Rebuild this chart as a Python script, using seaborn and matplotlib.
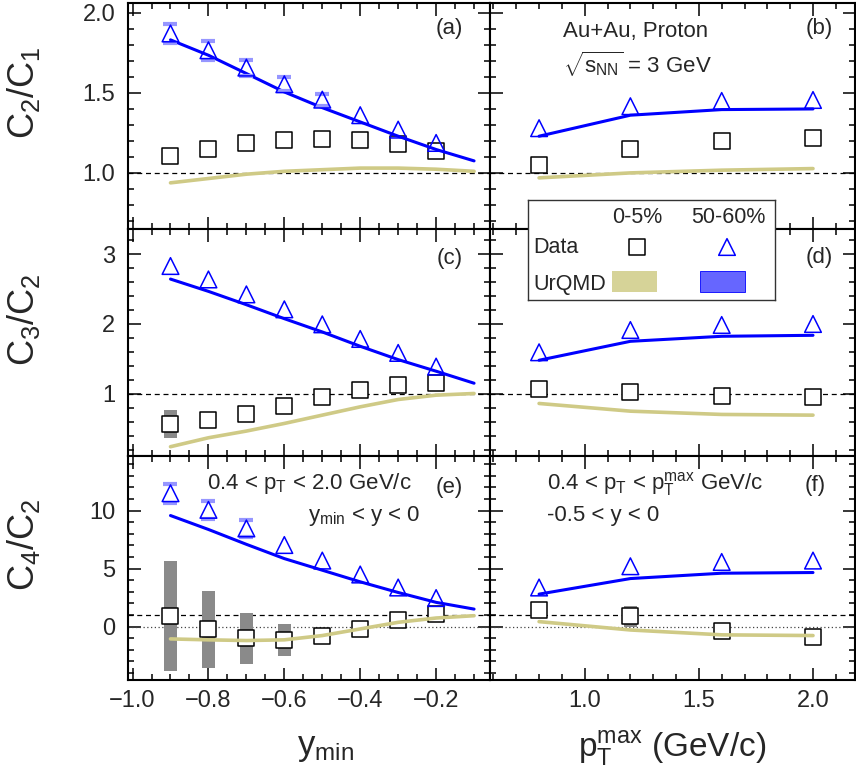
import matplotlib
matplotlib.use("Agg")
import matplotlib.pyplot as plt
import seaborn as sns
from matplotlib.ticker import MultipleLocator
from matplotlib.patches import Rectangle

# ---------------------------------------------------------------- data
# left column: scan in rapidity window y_min < y < 0
y_min_data = [-0.9, -0.8, -0.7, -0.6, -0.5, -0.4, -0.3, -0.2]
y_min_model = [-0.9, -0.8, -0.7, -0.6, -0.5, -0.4, -0.3, -0.2, -0.1]
# right column: scan in upper pT cut
pt_max = [0.8, 1.2, 1.6, 2.0]

# C2/C1 vs y_min
c21_y_cent = [1.108, 1.150, 1.185, 1.208, 1.214, 1.206, 1.180, 1.139]
c21_y_peri = [1.870, 1.765, 1.657, 1.553, 1.457, 1.360, 1.270, 1.187]
c21_y_peri_sys = [0.062, 0.058, 0.050, 0.045, 0.038, 0.0, 0.0, 0.0]
c21_y_urqmd_cent = [0.938, 0.965, 0.992, 1.010, 1.020, 1.030, 1.030, 1.023, 1.010]
c21_y_urqmd_peri = [1.830, 1.734, 1.620, 1.505, 1.407, 1.318, 1.229, 1.146, 1.075]

# C2/C1 vs pT max
c21_pt_cent = [1.050, 1.146, 1.200, 1.216]
c21_pt_peri = [1.279, 1.416, 1.449, 1.455]
c21_pt_urqmd_cent = [0.969, 1.000, 1.017, 1.027]
c21_pt_urqmd_peri = [1.229, 1.360, 1.395, 1.399]

# C3/C2 vs y_min
c32_y_cent = [0.571, 0.624, 0.714, 0.833, 0.952, 1.062, 1.129, 1.162]
c32_y_cent_sys = [0.200, 0.060, 0.030, 0.020, 0.010, 0.010, 0.010, 0.010]
c32_y_peri = [2.830, 2.638, 2.424, 2.210, 1.995, 1.786, 1.586, 1.390]
c32_y_urqmd_cent = [0.243, 0.371, 0.467, 0.576, 0.695, 0.814, 0.919, 0.981, 1.005]
c32_y_urqmd_peri = [2.643, 2.467, 2.276, 2.076, 1.886, 1.681, 1.490, 1.324, 1.152]

# C3/C2 vs pT max
c32_pt_cent = [1.071, 1.033, 0.971, 0.952]
c32_pt_peri = [1.595, 1.914, 1.986, 2.000]
c32_pt_urqmd_cent = [0.862, 0.752, 0.705, 0.695]
c32_pt_urqmd_peri = [1.481, 1.752, 1.824, 1.838]

# C4/C2 vs y_min
c42_y_cent = [0.94, -0.23, -1.00, -1.17, -0.83, -0.20, 0.54, 1.09]
c42_y_cent_sys = [4.74, 3.33, 2.20, 1.37, 0.30, 0.20, 0.20, 0.20]
c42_y_peri = [11.49, 10.06, 8.46, 7.03, 5.69, 4.49, 3.37, 2.46]
c42_y_peri_sys = [0.80, 0.75, 0.70, 0.0, 0.0, 0.0, 0.0, 0.0]
c42_y_urqmd_cent = [-1.06, -1.14, -1.20, -1.14, -0.77, -0.20, 0.37, 0.74, 0.94]
c42_y_urqmd_peri = [9.57, 8.37, 7.09, 5.86, 4.86, 3.86, 2.94, 2.09, 1.51]

# C4/C2 vs pT max
c42_pt_cent = [1.43, 0.89, -0.37, -0.86]
c42_pt_cent_sys = [0.20, 0.90, 0.50, 0.20]
c42_pt_peri = [3.37, 5.20, 5.57, 5.69]
c42_pt_urqmd_cent = [0.43, -0.29, -0.71, -0.77]
c42_pt_urqmd_peri = [2.80, 4.14, 4.60, 4.66]

# ---------------------------------------------------------------- style
sns.set_theme(style="ticks")
plt.rcParams["font.family"] = ["Liberation Sans", "DejaVu Sans"]
plt.rcParams["mathtext.fontset"] = "custom"
plt.rcParams["mathtext.rm"] = "Liberation Sans"
plt.rcParams["mathtext.it"] = "Liberation Sans"
plt.rcParams["mathtext.sf"] = "Liberation Sans"
plt.rcParams["axes.facecolor"] = "white"

BLUE = "#0000ff"
KHAKI = "#cfca86"
SYS_BLUE = "#9696ff"
GRAY = "#8a8a8a"

W, H = 856, 783
fig = plt.figure(figsize=(W / 100, H / 100), dpi=100)


def axpos(x0, x1, y0, y1):
    return [x0 / W, 1 - y1 / H, (x1 - x0) / W, (y1 - y0) / H]


cols = [(128, 490), (490, 855)]
rows = [(3, 229), (229, 456), (456, 680)]
xlims = [(-1.012, -0.058), (0.585, 2.184)]
xlocs = [(0.2, 0.05), (0.5, 0.1)]
ylims = [(0.65, 2.06), (0.11, 3.36), (-4.6, 14.7)]
ylocs = [(0.5, 0.1), (1, 0.2), (5, 1)]

axes = [[None, None] for _ in rows]
for r, (y0, y1) in enumerate(rows):
    for c, (x0, x1) in enumerate(cols):
        ax = fig.add_axes(axpos(x0, x1, y0, y1))
        ax.set_xlim(*xlims[c])
        ax.set_ylim(*ylims[r])
        ax.xaxis.set_major_locator(MultipleLocator(xlocs[c][0]))
        ax.xaxis.set_minor_locator(MultipleLocator(xlocs[c][1]))
        ax.yaxis.set_major_locator(MultipleLocator(ylocs[r][0]))
        ax.yaxis.set_minor_locator(MultipleLocator(ylocs[r][1]))
        ax.tick_params(which="both", direction="in", top=True, right=True,
                       width=1.1, color="black", labelsize=17)
        ax.tick_params(which="major", length=9)
        ax.tick_params(which="minor", length=4.5)
        ax.tick_params(axis="y", pad=9)
        ax.tick_params(axis="x", pad=7)
        ax.tick_params(labelbottom=(r == 2), labelleft=(c == 0))
        for s in ax.spines.values():
            s.set_linewidth(1.5)
            s.set_color("black")
        axes[r][c] = ax


def draw_panel(ax, x, xm, cent, peri, um_cent, um_peri,
               cent_sys=None, peri_sys=None, bar_w=0.034, zero_line=False):
    ax.axhline(1, color="black", lw=0.9, ls=(0, (4, 3)), zorder=1)
    if zero_line:
        ax.axhline(0, color="#444444", lw=0.9, ls=(0, (1, 2)), zorder=1)
    if cent_sys is not None:
        lo = [v - e for v, e in zip(cent, cent_sys)]
        ax.bar(x, [2 * e for e in cent_sys], bottom=lo, width=bar_w,
               color=GRAY, lw=0, zorder=2)
    sns.scatterplot(x=x, y=cent, marker="s", s=11 ** 2, facecolor="white",
                    edgecolor="black", linewidth=1.1, ax=ax, zorder=3)
    sns.lineplot(x=xm, y=um_cent, color=KHAKI, lw=2.6, ax=ax, zorder=4)
    sns.lineplot(x=xm, y=um_peri, color=BLUE, lw=2.2, ax=ax, zorder=4)
    if peri_sys is not None:
        keep = [i for i, e in enumerate(peri_sys) if e > 0]
        ax.errorbar([x[i] for i in keep], [peri[i] for i in keep],
                    yerr=[peri_sys[i] for i in keep], fmt="none",
                    ecolor=SYS_BLUE, elinewidth=0, capsize=4.7, capthick=3,
                    zorder=4.5)
    sns.scatterplot(x=x, y=peri, marker="^", s=12 ** 2, facecolor="none",
                    edgecolor=BLUE, linewidth=1.1, ax=ax, zorder=5)
    ax.set_xlabel("")
    ax.set_ylabel("")


draw_panel(axes[0][0], y_min_data, y_min_model, c21_y_cent, c21_y_peri,
           c21_y_urqmd_cent, c21_y_urqmd_peri, peri_sys=c21_y_peri_sys)
draw_panel(axes[0][1], pt_max, pt_max, c21_pt_cent, c21_pt_peri,
           c21_pt_urqmd_cent, c21_pt_urqmd_peri)
draw_panel(axes[1][0], y_min_data, y_min_model, c32_y_cent, c32_y_peri,
           c32_y_urqmd_cent, c32_y_urqmd_peri, cent_sys=c32_y_cent_sys)
draw_panel(axes[1][1], pt_max, pt_max, c32_pt_cent, c32_pt_peri,
           c32_pt_urqmd_cent, c32_pt_urqmd_peri)
draw_panel(axes[2][0], y_min_data, y_min_model, c42_y_cent, c42_y_peri,
           c42_y_urqmd_cent, c42_y_urqmd_peri, cent_sys=c42_y_cent_sys,
           peri_sys=c42_y_peri_sys, zero_line=True)
draw_panel(axes[2][1], pt_max, pt_max, c42_pt_cent, c42_pt_peri,
           c42_pt_urqmd_cent, c42_pt_urqmd_peri, cent_sys=c42_pt_cent_sys,
           bar_w=0.057, zero_line=True)


# ---------------------------------------------------------------- text
def ftext(px, py, s, size=16, ha="left", va="baseline", **kw):
    fig.text(px / W, 1 - py / H, s, fontsize=size, ha=ha, va=va, **kw)


for lab, px, py in [("(a)", 463, 34), ("(b)", 833, 34), ("(c)", 463, 264),
                    ("(d)", 833, 263), ("(e)", 463, 493), ("(f)", 826, 491)]:
    ftext(px, py, lab, ha="right")

ftext(563, 37, "Au+Au, Proton")
ftext(563, 73, r"$\mathregular{\sqrt{s_{NN}}}$ = 3 GeV")
ftext(207, 489, r"0.4 < $\mathregular{p_{T}}$ < 2.0 GeV/c")
ftext(308, 521, r"$\mathregular{y_{min}}$ < y < 0")
ftext(547, 489, r"0.4 < $\mathregular{p_{T}}$ < $\mathregular{p_{T}^{max}}$ GeV/c")
ftext(547, 521, "-0.5 < y < 0")

# axis titles
ftext(24, 93, r"$\mathregular{C_{2}/C_{1}}$", size=26, ha="center", va="center", rotation=90)
ftext(24, 320, r"$\mathregular{C_{3}/C_{2}}$", size=26, ha="center", va="center", rotation=90)
ftext(24, 545, r"$\mathregular{C_{4}/C_{2}}$", size=26, ha="center", va="center", rotation=90)
ftext(297, 755, r"$\mathregular{y_{min}}$", size=25)
ftext(578, 757, r"$\mathregular{p_{T}^{max}}$ (GeV/c)", size=24)

# ---------------------------------------------------------------- legend box
lx0, lx1, ly0, ly1 = 528, 775, 200, 300
lax = fig.add_axes(axpos(lx0, lx1, ly0, ly1))
lax.set_xlim(0, lx1 - lx0)
lax.set_ylim(ly1 - ly0, 0)
lax.set_xticks([])
lax.set_yticks([])
lax.set_facecolor("white")
for s in lax.spines.values():
    s.set_linewidth(1.0)
    s.set_color("#333333")
lax.text(109, 23, "0-5%", fontsize=15.5, ha="center", va="baseline")
lax.text(200, 23, "50-60%", fontsize=15.5, ha="center", va="baseline")
lax.text(5, 53, "Data", fontsize=15.5, ha="left", va="baseline")
lax.text(5, 90, "UrQMD", fontsize=15.5, ha="left", va="baseline")
lax.scatter([109], [47], marker="s", s=11 ** 2, facecolor="white",
            edgecolor="black", linewidth=1.1)
lax.scatter([199], [47], marker="^", s=12 ** 2, facecolor="none",
            edgecolor=BLUE, linewidth=1.1)
lax.add_patch(Rectangle((84, 71), 45, 21, facecolor="#d6d398", edgecolor="none"))
lax.add_patch(Rectangle((172, 71), 45, 21, facecolor="#6666ff", edgecolor=BLUE, lw=0.6))

fig.savefig("out.png", dpi=100)
